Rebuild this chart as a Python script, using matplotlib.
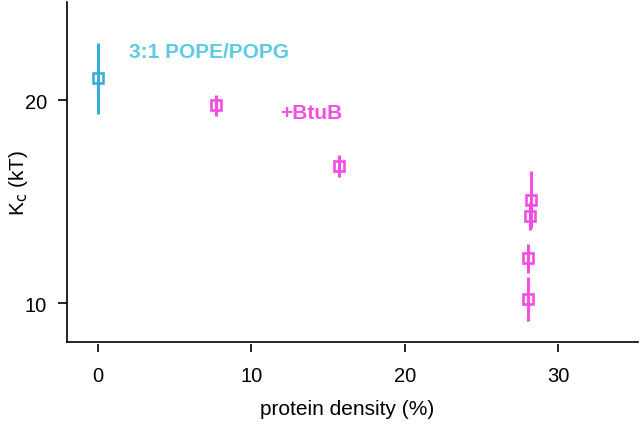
#importing required libraries
import matplotlib.pyplot as plt
from matplotlib.lines import Line2D

plt.rcParams['font.family'] = ['Liberation Sans', 'DejaVu Sans']

#data
lipid_x = [0.0]
lipid_y = [21.1]
lipid_err = [1.75]

btub_x = [7.7, 15.7, 28.25, 28.15, 28.05, 28.05]
btub_y = [19.75, 16.75, 15.1, 14.3, 12.2, 10.2]
btub_err = [0.5, 0.55, 1.4, 0.7, 0.7, 1.1]

x_ticks = [0, 10, 20, 30]
y_ticks = [10, 20]

blue = '#36aed8'
blue_text = '#5ccbe0'
pink = '#f24fe2'

fig = plt.figure(figsize=(6.4, 4.31), dpi=100)
ax = fig.add_axes([67/640, 1 - 343/431, 571/640, 340/431])

#open square markers with vertical error bars
ax.errorbar(lipid_x, lipid_y, yerr=lipid_err, fmt='s', color=blue, mfc='none',
            mec=blue, ms=7.8, mew=1.9, elinewidth=2.2, capsize=0)
ax.errorbar(btub_x, btub_y, yerr=btub_err, fmt='s', color=pink, mfc='none',
            mec=pink, ms=7.8, mew=1.9, elinewidth=2.2, capsize=0)

ax.text(2.05, 22.4, '3:1 POPE/POPG', color=blue_text, fontsize=15,
        fontweight='bold', va='center')
ax.text(11.9, 19.4, '+BtuB', color=pink, fontsize=15, fontweight='bold',
        va='center')

ax.set_xlim(-2.0, 35.2)
ax.set_ylim(8.08, 24.85)
ax.set_xticks(x_ticks)
ax.set_yticks(y_ticks)

#bottom spine is drawn as a plain line, the ticks sit a little below it
ax.spines['top'].set_visible(False)
ax.spines['right'].set_visible(False)
ax.spines['bottom'].set_position(('outward', 1.5))
ax.spines['bottom'].set_visible(False)
ax.spines['left'].set_linewidth(1.2)
ax.add_line(Line2D([0, 1], [0, 0], transform=ax.transAxes, color='black',
                   lw=1.2, clip_on=False))

ax.tick_params(axis='both', labelsize=14.5, width=1.2, direction='out')
ax.tick_params(axis='x', length=6, pad=10)
ax.tick_params(axis='y', length=6.5, pad=8)

#setting up the labels
ax.set_xlabel('protein density (%)', fontsize=15)
ax.set_ylabel(r'K$_\mathrm{c}$ (kT)', fontsize=15)
ax.xaxis.label.set_va('center')
ax.yaxis.label.set_va('center')
ax.xaxis.set_label_coords(0.49, (343 - 410) / 340)
ax.yaxis.set_label_coords((18 - 67) / 571, (343 - 183) / 340)

#saving the generated plot
fig.savefig('out.png', dpi=100)
